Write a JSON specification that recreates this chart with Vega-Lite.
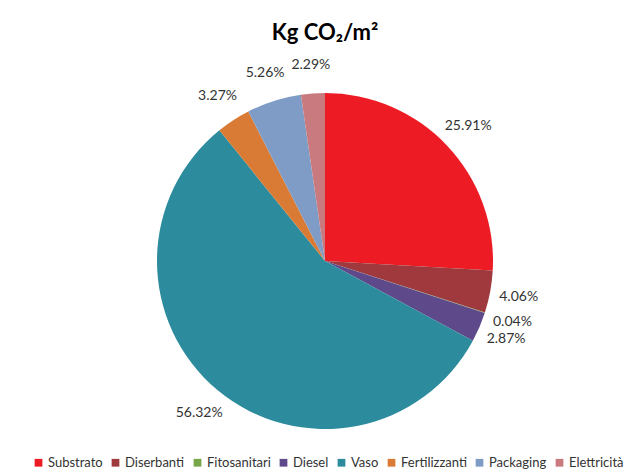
{
  "$schema": "https://vega.github.io/schema/vega-lite/v6.json",
  "width": 614,
  "height": 402,
  "autosize": "none",
  "padding": {"left": 18, "top": 60, "right": 0, "bottom": 14},
  "background": "white",
  "config": {"view": {"stroke": null}, "font": "Lato"},
  "title": {
    "text": "Kg CO₂/m²",
    "fontSize": 22,
    "fontWeight": "bold",
    "font": "Lato",
    "color": "#000000",
    "anchor": "middle",
    "offset": 13
  },
  "data": {
    "values": [
      {"idx": 1, "cat": "Substrato", "pct": 25.91, "label": "25.91%"},
      {"idx": 2, "cat": "Diserbanti", "pct": 4.06, "label": "4.06%"},
      {"idx": 3, "cat": "Fitosanitari", "pct": 0.04, "label": "0.04%"},
      {"idx": 4, "cat": "Diesel", "pct": 2.87, "label": "2.87%"},
      {"idx": 5, "cat": "Vaso", "pct": 56.32, "label": "56.32%"},
      {"idx": 6, "cat": "Fertilizzanti", "pct": 3.27, "label": "3.27%"},
      {"idx": 7, "cat": "Packaging", "pct": 5.26, "label": "5.26%"},
      {"idx": 8, "cat": "Elettricità", "pct": 2.29, "label": "2.29%"}
    ]
  },
  "encoding": {
    "theta": {"field": "pct", "type": "quantitative", "stack": true},
    "order": {"field": "idx", "type": "quantitative"}
  },
  "layer": [
    {
      "mark": {"type": "arc", "outerRadius": 168},
      "encoding": {
        "color": {
          "field": "cat",
          "type": "nominal",
          "sort": ["Substrato", "Diserbanti", "Fitosanitari", "Diesel", "Vaso", "Fertilizzanti", "Packaging", "Elettricità"],
          "scale": {
            "domain": ["Substrato", "Diserbanti", "Fitosanitari", "Diesel", "Vaso", "Fertilizzanti", "Packaging", "Elettricità"],
            "range": ["#ED1C24", "#A0393E", "#77A548", "#5E4A8B", "#2C8B9C", "#D97B35", "#7F9CC6", "#C97A7E"]
          },
          "legend": {
            "title": null,
            "orient": "none",
            "legendX": 14,
            "legendY": 396,
            "direction": "horizontal",
            "symbolType": "square",
            "symbolSize": 60,
            "symbolStrokeWidth": 0,
            "labelFontSize": 13,
            "labelFont": "Lato",
            "labelColor": "#333333",
            "columnPadding": 6,
            "labelOffset": 3
          }
        }
      }
    },
    {
      "mark": {"type": "text", "radius": 197, "fontSize": 14, "font": "Lato", "color": "#333333"},
      "encoding": {"text": {"field": "label"}}
    }
  ]
}
